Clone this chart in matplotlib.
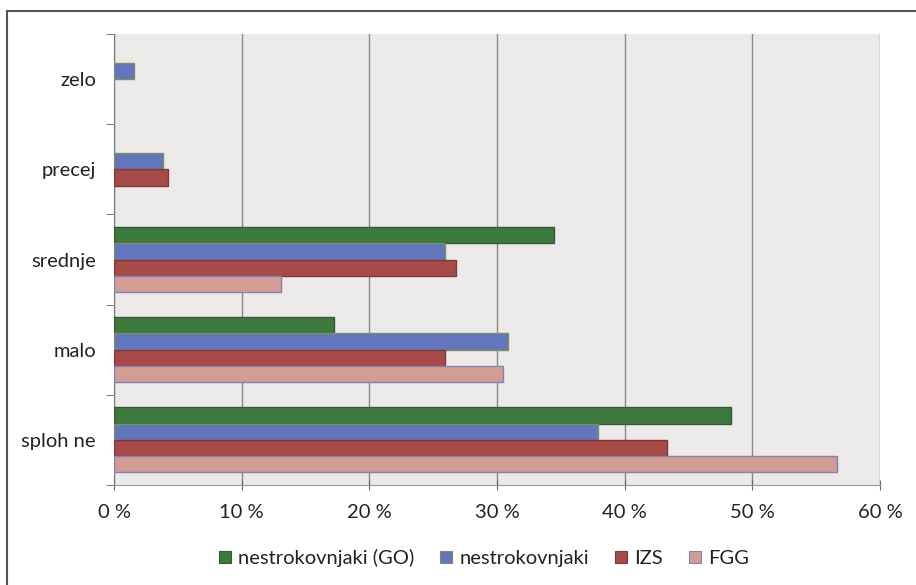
import numpy as np
import matplotlib.pyplot as plt
from matplotlib.lines import Line2D

plt.rcParams['font.family'] = ['Lato', 'DejaVu Sans']

categories = ["zelo", "precej", "srednje", "malo", "sploh ne"]
series = ["nestrokovnjaki (GO)", "nestrokovnjaki", "IZS", "FGG"]

go = [0.0, 0.0, 34.5, 17.2, 48.3]
nestrok = [1.6, 3.8, 25.9, 30.9, 37.9]
izs = [0.0, 4.2, 26.8, 25.9, 43.3]
fgg = [0.0, 0.0, 13.1, 30.5, 56.6]

values = [go, nestrok, izs, fgg]
colors = ["#3b7a3b", "#6176bd", "#a84a48", "#d39d93"]
edges = ["#37573a", "#7c8f5e", "#7e3a3a", "#8282b4"]

fig = plt.figure(figsize=(9.16, 5.85), dpi=100)
ax = fig.add_axes([114 / 916, 1 - 485 / 585, (880 - 114) / 916, (485 - 34) / 585])

n = len(categories)
y = np.arange(n)
h = 0.18
for i, (vals, c, ec) in enumerate(zip(values, colors, edges)):
    offs = (i - 1.5) * h
    pos = [yy + offs for yy, v in zip(y, vals) if v > 0]
    vv = [v for v in vals if v > 0]
    ax.barh(pos, vv, height=h, color=c, edgecolor=ec, linewidth=1.0, zorder=3,
            label=series[i])

ax.set_ylim(n - 0.5, -0.5)
ax.set_xlim(0, 60)
ax.set_facecolor("#ebeae9")

fs = 14.5
ax.set_xticks(range(0, 61, 10))
ax.set_xticklabels([f"{t} %" for t in range(0, 61, 10)], fontsize=fs, color="#222222")
ax.set_yticks(y)
ax.set_yticklabels(categories, fontsize=fs, color="#222222")
ax.set_yticks(np.arange(-0.5, n, 1), minor=True)
ax.tick_params(axis="y", which="major", length=0, pad=13)
ax.tick_params(axis="y", which="minor", length=6, color="#666666", direction="out")
ax.tick_params(axis="x", length=7, color="#666666", direction="inout", pad=10)

ax.grid(axis="x", color="#8a8a8a", linewidth=1.0, zorder=1)
for s in ["top", "right"]:
    ax.spines[s].set_visible(False)
ax.spines["left"].set_color("#777777")
ax.spines["bottom"].set_color("#999999")

handles = [Line2D([], [], marker="s", linestyle="", markersize=9, markerfacecolor=c,
                  markeredgecolor=ec, markeredgewidth=0.8) for c, ec in zip(colors, edges)]
fig.legend(handles, series, loc="center", bbox_to_anchor=(483 / 916, 1 - 558 / 585),
           ncol=4, frameon=False, fontsize=fs, handletextpad=0.25, columnspacing=1.2,
           handlelength=0.8, labelcolor="#222222")

# outer frame lines (top and left only)
fig.add_artist(Line2D([7 / 916, 1], [1 - 11 / 585] * 2, color="#555555", linewidth=1.5))
fig.add_artist(Line2D([7 / 916] * 2, [0, 1 - 11 / 585], color="#555555", linewidth=1.5))

fig.savefig("out.png", dpi=100)
